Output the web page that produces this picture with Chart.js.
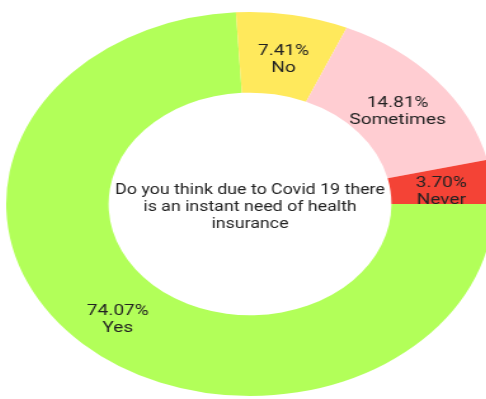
<!DOCTYPE html>
<html>
<head>
<meta charset="utf-8">
<script src="https://cdn.jsdelivr.net/npm/chart.js@4"></script>
<style>
    html, body { margin: 0; padding: 0; background: #fff; overflow: hidden; }
    /* the reference is a horizontally stretched picture, so stretch the canvas the same way */
    #wrap { position: absolute; left: 50px; top: 0; width: 400px; height: 399px;
            transform: scaleX(1.27); transform-origin: 200px 50%; }
</style>
</head>
<body>
<div id="wrap"><canvas id="surveyChart" width="400" height="399"></canvas></div>
<script>
// Survey answers
const answerLabels = ['Yes', 'No', 'Sometimes', 'Never'];
const answerPercents = [74.07, 7.41, 14.81, 3.70];
const answerColors = ['#b2ff59', '#ffe95c', '#ffcdd2', '#f44336'];
const centerTitle = ['Do you think due to Covid 19 there', 'is an instant need of health', 'insurance'];

const labelPlugin = {
    id: 'arcLabels',
    afterDraw(chart) {
        const ctx = chart.ctx;
        const meta = chart.getDatasetMeta(0);
        ctx.save();
        ctx.fillStyle = '#222222';
        ctx.textAlign = 'center';
        ctx.textBaseline = 'middle';

        // percent + answer on each slice
        ctx.font = '15px Roboto';
        meta.data.forEach((arc, i) => {
            const pos = arc.tooltipPosition();
            const lines = [answerPercents[i].toFixed(2) + '%', answerLabels[i]];
            lines.forEach((t, k) => ctx.fillText(t, pos.x, pos.y + 5 + (k - 0.5) * 17));
        });

        // title in the hole
        const c = meta.data[0];
        ctx.font = '14px Roboto';
        centerTitle.forEach((t, k) => ctx.fillText(t, c.x, c.y + (k - 1) * 17 + 3));
        ctx.restore();
    }
};

new Chart(document.getElementById('surveyChart'), {
    type: 'doughnut',
    data: {
        labels: answerLabels,
        datasets: [{
            data: answerPercents,
            backgroundColor: answerColors,
            borderWidth: 0
        }]
    },
    options: {
        responsive: false,
        animation: false,
        rotation: 90,
        cutout: '58%',
        layout: { padding: { top: 12, bottom: 3 } },
        plugins: {
            legend: { display: false },
            tooltip: { enabled: false }
        }
    },
    plugins: [labelPlugin]
});
</script>
</body>
</html>
